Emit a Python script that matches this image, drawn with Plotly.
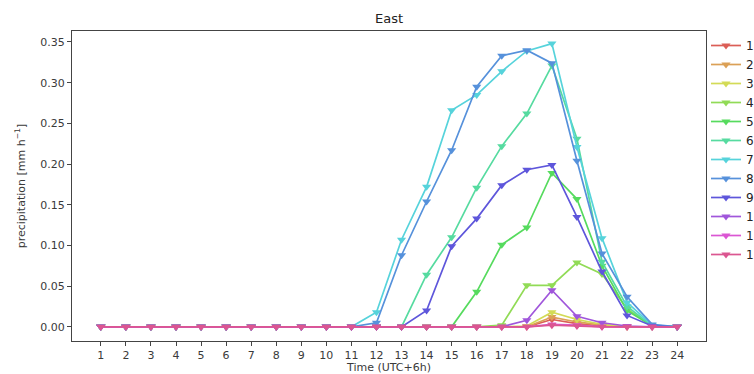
import colorsys
import plotly.graph_objects as go

hours = list(range(1, 25))
tick_labels = [str(h) for h in hours]

def z():
    return [0.0] * 24

s1 = z(); s1[18] = 0.009; s1[19] = 0.004; s1[20] = 0.001
s2 = z(); s2[18] = 0.012; s2[19] = 0.006; s2[20] = 0.002
s3 = z(); s3[17] = 0.001; s3[18] = 0.018; s3[19] = 0.009; s3[20] = 0.003
s4 = [0, 0, 0, 0, 0, 0, 0, 0, 0, 0, 0, 0, 0, 0, 0, 0, 0.002, 0.051, 0.051, 0.079, 0.065, 0.022, 0.001, 0]
s5 = [0, 0, 0, 0, 0, 0, 0, 0, 0, 0, 0, 0, 0, 0, 0, 0.043, 0.101, 0.122, 0.189, 0.157, 0.075, 0.020, 0.001, 0]
s6 = [0, 0, 0, 0, 0, 0, 0, 0, 0, 0, 0, 0, 0, 0.064, 0.110, 0.171, 0.222, 0.262, 0.321, 0.231, 0.080, 0.025, 0.001, 0]
s7 = [0, 0, 0, 0, 0, 0, 0, 0, 0, 0, 0, 0.018, 0.107, 0.172, 0.266, 0.285, 0.314, 0.339, 0.348, 0.221, 0.109, 0.030, 0.002, 0]
s8 = [0, 0, 0, 0, 0, 0, 0, 0, 0, 0, 0, 0.005, 0.088, 0.154, 0.217, 0.295, 0.333, 0.340, 0.324, 0.204, 0.090, 0.037, 0.003, 0]
s9 = [0, 0, 0, 0, 0, 0, 0, 0, 0, 0, 0, 0, 0, 0.020, 0.099, 0.133, 0.174, 0.193, 0.199, 0.135, 0.068, 0.014, 0.001, 0]
s10 = z(); s10[17] = 0.008; s10[18] = 0.045; s10[19] = 0.013; s10[20] = 0.005; s10[21] = 0.001
s11 = z(); s11[18] = 0.003; s11[19] = 0.002
s12 = z(); s12[18] = 0.002; s12[19] = 0.001

series_names = [str(i) for i in range(1, 13)]
series = [s1, s2, s3, s4, s5, s6, s7, s8, s9, s10, s11, s12]

def hls_colors(n, h=0.01, l=0.6, s=0.65):
    out = []
    for i in range(n):
        hue = (i / n + h) % 1
        r, g, b = colorsys.hls_to_rgb(hue, l, s)
        out.append(f"rgb({int(r*255)},{int(g*255)},{int(b*255)})")
    return out

colors = hls_colors(12)

fig = go.Figure()
for name, vals, c in zip(series_names, series, colors):
    fig.add_trace(go.Scatter(
        x=hours, y=vals, name=name, mode="lines+markers",
        line=dict(color=c, width=1.7),
        marker=dict(symbol="triangle-down", size=8, color=c),
    ))

font_col = "#3a3a3a"
fig.update_layout(
    width=754, height=374,
    margin=dict(l=72, r=48, t=31, b=33, autoexpand=False),
    paper_bgcolor="white", plot_bgcolor="white",
    font=dict(family="DejaVu Sans", size=11, color=font_col),
    title=dict(text="East", x=389 / 754, xanchor="center", y=1 - 18 / 374, yanchor="middle",
               font=dict(size=13, color="#222")),
    showlegend=True,
    legend=dict(x=1.0, xanchor="left", y=1.0, yanchor="top",
                font=dict(size=12, color="#222"), bgcolor="rgba(0,0,0,0)",
                tracegroupgap=0, itemwidth=30),
    xaxis=dict(range=[-0.15, 25.15], tickmode="array", tickvals=hours, ticktext=tick_labels,
               showgrid=False, zeroline=False, showline=True, linecolor="#444", linewidth=1, mirror=True,
               ticks="outside", ticklen=4, tickcolor="#444",
               title=dict(text="Time (UTC+6h)", standoff=8, font=dict(size=11))),
    yaxis=dict(range=[-0.0174, 0.3635], dtick=0.05, tick0=0, tickformat=".2f",
               showgrid=False, zeroline=False, showline=True, linecolor="#444", linewidth=1, mirror=True,
               ticks="outside", ticklen=4, tickcolor="#444",
               title=dict(text="precipitation [mm h<sup>−1</sup>]", standoff=12, font=dict(size=11))),
)

fig.write_html("out.html", config={"displayModeBar": False},
               post_script="document.body.style.margin='0';document.body.style.padding='0';")
